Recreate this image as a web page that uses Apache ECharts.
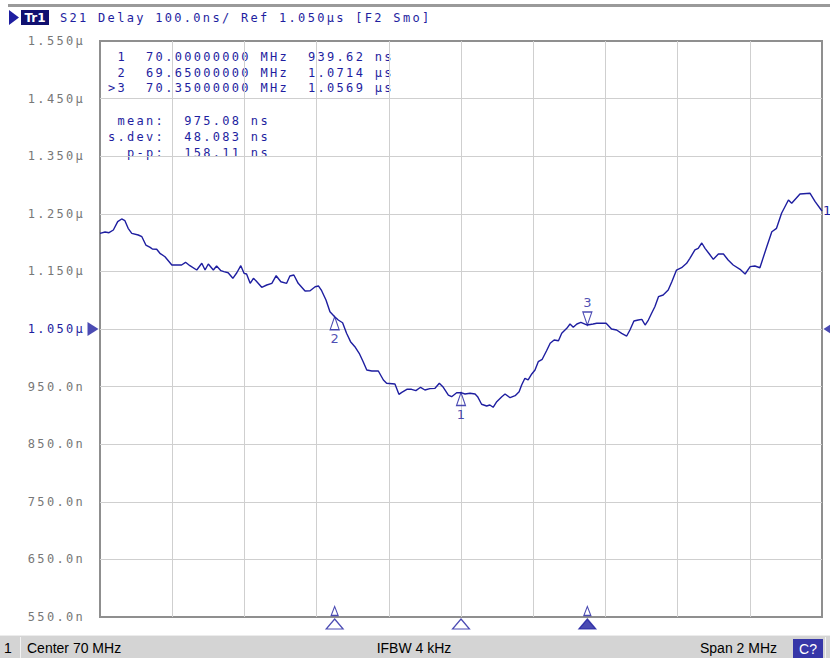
<!DOCTYPE html>
<html>
<head>
<meta charset="utf-8">
<script src="https://cdn.jsdelivr.net/npm/echarts@6/dist/echarts.min.js"></script>
<style>
html,body{margin:0;padding:0;background:#fff;}
#chart{width:830px;height:658px;}
#chart text{white-space:pre;}
#chart text[style*="Mono"], #chart text[font-family*="Mono"]{letter-spacing:2.3px;}
</style>
</head>
<body>
<div id="chart"></div>
<script>
// trace: frequency (MHz) / group delay (ns)
var freqMHz = [
  69.000, 69.014, 69.025, 69.037, 69.049, 69.060, 69.069, 69.078, 69.088, 69.106,
  69.116, 69.127, 69.139, 69.145, 69.157, 69.166, 69.180, 69.199, 69.226, 69.237,
  69.249, 69.268, 69.282, 69.291, 69.300, 69.314, 69.323, 69.335, 69.343, 69.355,
  69.368, 69.379, 69.390, 69.399, 69.406, 69.416, 69.425, 69.432, 69.448, 69.462,
  69.476, 69.488, 69.501, 69.517, 69.526, 69.537, 69.549, 69.568, 69.582, 69.596,
  69.605, 69.614, 69.626, 69.637, 69.650, 69.660, 69.672, 69.683, 69.694, 69.706,
  69.718, 69.729, 69.739, 69.753, 69.771, 69.785, 69.794, 69.817, 69.828, 69.836,
  69.850, 69.863, 69.875, 69.888, 69.900, 69.914, 69.928, 69.940, 69.951, 69.965,
  69.974, 69.988, 70.000, 70.011, 70.025, 70.039, 70.046, 70.057, 70.071, 70.080,
  70.089, 70.099, 70.113, 70.122, 70.136, 70.150, 70.161, 70.168, 70.177, 70.186,
  70.196, 70.205, 70.214, 70.225, 70.237, 70.247, 70.258, 70.270, 70.279, 70.293,
  70.302, 70.311, 70.321, 70.332, 70.350, 70.366, 70.376, 70.402, 70.417, 70.431,
  70.445, 70.459, 70.468, 70.479, 70.491, 70.501, 70.510, 70.519, 70.528, 70.537,
  70.547, 70.560, 70.574, 70.584, 70.597, 70.611, 70.625, 70.634, 70.648, 70.657,
  70.667, 70.676, 70.688, 70.699, 70.713, 70.727, 70.740, 70.754, 70.773, 70.787,
  70.801, 70.814, 70.828, 70.847, 70.861, 70.874, 70.888, 70.907, 70.916, 70.939,
  70.967, 70.981, 71.000
];
var delayNs = [
  1216.1, 1218.4, 1217.2, 1221.9, 1236.3, 1241.0, 1238.0, 1224.8, 1216.1, 1213.2,
  1210.2, 1195.8, 1191.8, 1188.9, 1188.4, 1181.4, 1175.5, 1161.1, 1161.1, 1165.8,
  1159.9, 1152.4, 1164.1, 1152.4, 1162.8, 1152.4, 1159.4, 1151.2, 1149.5, 1147.7,
  1138.0, 1147.7, 1159.9, 1146.7, 1145.5, 1129.3, 1138.0, 1133.9, 1122.4, 1126.4,
  1129.3, 1142.5, 1132.1, 1129.3, 1142.0, 1143.8, 1129.3, 1116.0, 1116.5, 1123.4,
  1124.7, 1116.5, 1100.3, 1080.0, 1071.4, 1065.6, 1060.9, 1042.5, 1028.0, 1019.3,
  1007.8, 993.2, 978.8, 977.1, 977.1, 961.5, 955.7, 954.5, 936.6, 940.1,
  945.3, 945.3, 942.9, 948.8, 944.1, 946.4, 947.0, 955.7, 948.8, 935.4,
  932.5, 939.4, 939.6, 937.2, 938.4, 937.2, 932.5, 919.3, 916.3, 918.1,
  914.1, 923.8, 932.5, 937.2, 930.7, 934.2, 941.1, 952.8, 964.4, 961.5,
  971.9, 978.8, 993.2, 997.4, 1012.3, 1025.2, 1030.9, 1029.7, 1042.5, 1051.2,
  1058.7, 1053.0, 1058.7, 1061.6, 1056.9, 1058.7, 1059.9, 1059.9, 1050.0, 1048.3,
  1042.5, 1037.8, 1048.3, 1063.9, 1065.6, 1066.8, 1056.9, 1065.6, 1077.3, 1088.7,
  1106.1, 1109.0, 1117.7, 1132.1, 1152.4, 1156.4, 1164.1, 1172.7, 1187.2, 1190.1,
  1199.3, 1190.1, 1180.2, 1171.0, 1180.2, 1180.2, 1169.8, 1161.1, 1153.6, 1145.5,
  1158.2, 1159.4, 1156.4, 1192.9, 1218.9, 1224.8, 1250.9, 1274.0, 1268.2, 1284.4,
  1285.6, 1271.0, 1254.9
];

var markerNames = ['1', '2', '3'];
var markerFreq = [70.0, 69.65, 70.35];
var markerDelay = [939.62, 1071.4, 1056.9];
var activeMarker = 2;

var centerMHz = 70;
var refNs = 1050;
var yLabels = ['550.0n', '650.0n', '750.0n', '850.0n', '950.0n', '1.050µ',
               '1.150µ', '1.250µ', '1.350µ', '1.450µ', '1.550µ'];

var titleText = 'S21 Delay 100.0ns/ Ref 1.050µs [F2 Smo]';
var markerLines = [' 1  70.00000000 MHz  939.62 ns',
                   ' 2  69.65000000 MHz  1.0714 µs',
                   '>3  70.35000000 MHz  1.0569 µs'];
var statLines = [' mean:  975.08 ns',
                 's.dev:  48.083 ns',
                 '  p-p:  158.11 ns'];

var navy = '#1e1ea0';
var mono = '12px "DejaVu Sans Mono"';
var statusFont = '14px "Liberation Sans"';

var triDown = 'path://M0,0L10,0L5,12Z';
var triRight = 'path://M0,0L10,7L0,14Z';
var triLeft = 'path://M10,0L0,7L10,14Z';

var trace = freqMHz.map(function (f, i) { return [f - centerMHz, delayNs[i] - refNs]; });

var markerData = markerFreq.map(function (f, i) {
    var up = i !== activeMarker;
    return {
        value: [f - centerMHz, markerDelay[i] - refNs],
        symbol: up ? 'triangle' : triDown,
        symbolOffset: up ? [0, 6.5] : [0, -6.5],
        label: { position: up ? 'bottom' : 'top' }
    };
});

var bottomBig = markerFreq.map(function (f, i) {
    var item = { value: [f - centerMHz, -500] };
    if (i === activeMarker) item.itemStyle = { color: navy };
    return item;
});
var bottomSmall = [markerFreq[1], markerFreq[2]].map(function (f) { return [f - centerMHz, -500]; });

var graphics = [
    { type: 'rect', shape: { x: 8, y: 4, width: 822, height: 3 }, style: { fill: '#9a9a9a' } },
    { type: 'polygon', shape: { points: [[9, 10], [19, 17.5], [9, 25]] }, style: { fill: navy } },
    { type: 'rect', shape: { x: 21, y: 10, width: 28, height: 15 }, style: { fill: '#101070' } },
    { type: 'text', x: 35, y: 17.5, style: { text: 'Tr1', fill: '#fff', font: 'bold 12px "DejaVu Sans"', textAlign: 'center', textVerticalAlign: 'middle' } },
    { type: 'text', x: 60, y: 17.5, style: { text: titleText, fill: navy, font: mono, textVerticalAlign: 'middle' } }
];
var lineY = [57, 72.5, 88];
markerLines.forEach(function (t, i) {
    graphics.push({ type: 'text', x: 108, y: lineY[i], style: { text: t, fill: navy, font: mono, textVerticalAlign: 'middle' } });
});
var statY = [121, 137, 153];
statLines.forEach(function (t, i) {
    graphics.push({ type: 'text', x: 108, y: statY[i], style: { text: t, fill: navy, font: mono, textVerticalAlign: 'middle' } });
});
// status bar
graphics.push(
    { type: 'rect', shape: { x: 0, y: 635, width: 830, height: 23 }, style: { fill: '#d4d4d4' } },
    { type: 'rect', shape: { x: 0, y: 635, width: 830, height: 1 }, style: { fill: '#ececec' } },
    { type: 'rect', shape: { x: 20, y: 637, width: 1, height: 21 }, style: { fill: '#f2f2f2' } },
    { type: 'text', x: 4, y: 648, style: { text: '1', fill: '#000', font: statusFont, textVerticalAlign: 'middle' } },
    { type: 'text', x: 27, y: 648, style: { text: 'Center 70 MHz', fill: '#000', font: statusFont, textVerticalAlign: 'middle' } },
    { type: 'text', x: 414, y: 648, style: { text: 'IFBW 4 kHz', fill: '#000', font: statusFont, textAlign: 'center', textVerticalAlign: 'middle' } },
    { type: 'text', x: 700, y: 648, style: { text: 'Span 2 MHz', fill: '#000', font: statusFont, textVerticalAlign: 'middle' } },
    { type: 'rect', shape: { x: 793, y: 639, width: 30, height: 19 }, style: { fill: '#3636a8' } },
    { type: 'text', x: 808, y: 648.5, style: { text: 'C?', fill: '#fff', font: statusFont, textAlign: 'center', textVerticalAlign: 'middle' } },
    { type: 'rect', shape: { x: 825, y: 637, width: 1, height: 21 }, style: { fill: '#f2f2f2' } }
);

var chart = echarts.init(document.getElementById('chart'), null, { renderer: 'svg' });
chart.setOption({
    animation: false,
    grid: { left: 100, right: 8, top: 41, bottom: 41, show: true, borderColor: '#8f8f8f', borderWidth: 2 },
    xAxis: {
        type: 'value', min: -1, max: 1, interval: 0.2,
        axisLine: { show: false }, axisTick: { show: false }, axisLabel: { show: false },
        splitLine: { show: true, showMinLine: false, showMaxLine: false, lineStyle: { color: '#cfcfcf', width: 1 } }
    },
    yAxis: {
        type: 'value', min: -500, max: 500, interval: 100,
        axisLine: { show: false }, axisTick: { show: false },
        splitLine: { show: true, showMinLine: false, showMaxLine: false, lineStyle: { color: '#cfcfcf', width: 1 } },
        axisLabel: {
            margin: 15, fontFamily: 'DejaVu Sans Mono', fontSize: 12,
            color: function (v) { return Math.abs(v) < 1e-6 ? navy : '#777'; },
            formatter: function (v, i) { return yLabels[i]; }
        }
    },
    series: [
        {
            type: 'line', data: trace, symbol: 'none', showSymbol: false, z: 3,
            lineStyle: { color: navy, width: 1.4 },
            endLabel: { show: true, formatter: '1', color: navy, fontFamily: 'DejaVu Sans', fontSize: 13, distance: 1 }
        },
        {
            type: 'scatter', data: markerData, symbolSize: [9, 13], z: 4, silent: true,
            itemStyle: { color: 'rgba(255,255,255,0)', borderColor: navy, borderWidth: 1.2 },
            label: { show: true, color: navy, fontFamily: 'DejaVu Sans', fontSize: 13, distance: 2,
                     formatter: function (p) { return markerNames[p.dataIndex]; } }
        },
        {
            type: 'scatter', data: bottomBig, symbol: 'triangle', symbolSize: [17, 10], symbolOffset: [0, 7],
            clip: false, z: 4, silent: true,
            itemStyle: { color: '#fff', borderColor: navy, borderWidth: 1.2 }
        },
        {
            type: 'scatter', data: bottomSmall, symbol: 'triangle', symbolSize: [7, 9], symbolOffset: [0, -6],
            clip: false, z: 4, silent: true,
            itemStyle: { color: '#fff', borderColor: navy, borderWidth: 1.2 }
        },
        {
            type: 'scatter', clip: false, z: 4, silent: true, symbolSize: [11, 14],
            itemStyle: { color: navy },
            data: [
                { value: [-1, 0], symbol: triRight, symbolOffset: [-7, 0] },
                { value: [1, 0], symbol: triLeft, symbolOffset: [7, 0] }
            ]
        }
    ],
    graphic: graphics
});
</script>
</body>
</html>
